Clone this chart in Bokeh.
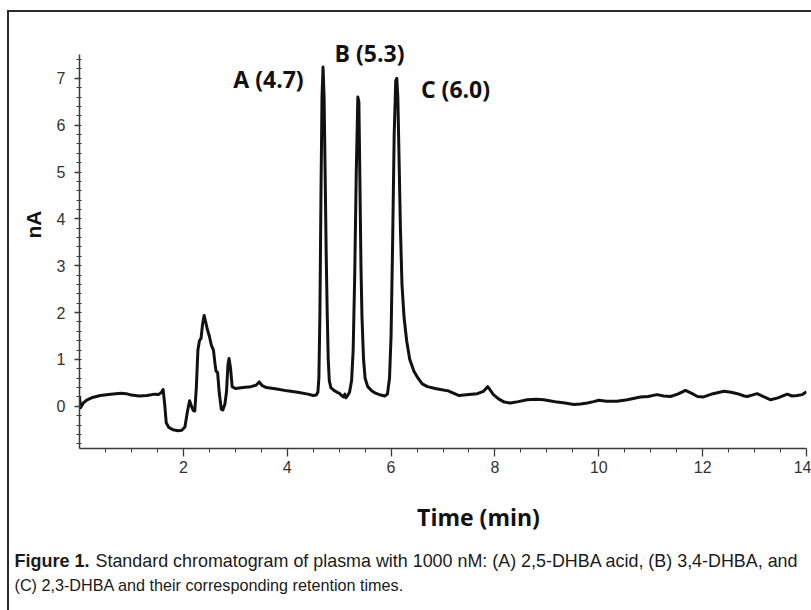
import math
from bokeh.plotting import figure
from bokeh.layouts import column
from bokeh.models import Label, FixedTicker, Range1d
from bokeh.embed import file_html
from bokeh.resources import INLINE

# ---- data ----
time_min = [
    0.00, 0.02, 0.08, 0.15, 0.25, 0.40, 0.60, 0.80, 0.90, 1.00, 1.15, 1.30, 1.45, 1.52, 1.58, 1.61,
    1.64, 1.67, 1.72, 1.80, 1.90, 1.97, 2.03, 2.08, 2.12, 2.15, 2.19, 2.22, 2.25, 2.28, 2.31, 2.34,
    2.37, 2.40, 2.43, 2.46, 2.50, 2.54, 2.58, 2.61, 2.63, 2.66, 2.69, 2.73, 2.76, 2.80, 2.83, 2.86,
    2.88, 2.91, 2.94, 3.00, 3.15, 3.30, 3.40, 3.46, 3.52, 3.60, 3.80, 4.00, 4.20, 4.40, 4.50, 4.56,
    4.59, 4.61, 4.63, 4.65, 4.67, 4.69, 4.71, 4.73, 4.75, 4.77, 4.79, 4.81, 4.84, 4.90, 4.96, 5.00,
    5.04, 5.08, 5.11, 5.13, 5.17, 5.20, 5.24, 5.27, 5.30, 5.33, 5.36, 5.38, 5.40, 5.42, 5.44, 5.47,
    5.50, 5.55, 5.62, 5.70, 5.80, 5.88, 5.93, 5.97, 6.00, 6.03, 6.06, 6.09, 6.11, 6.13, 6.15, 6.18,
    6.21, 6.25, 6.30, 6.36, 6.44, 6.52, 6.60, 6.70, 6.85, 6.95, 7.10, 7.31, 7.50, 7.66, 7.78, 7.86,
    7.90, 7.97, 8.07, 8.18, 8.30, 8.45, 8.62, 8.80, 8.94, 9.05, 9.20, 9.35, 9.52, 9.65, 9.78, 9.90,
    10.00, 10.15, 10.35, 10.55, 10.80, 10.95, 11.12, 11.25, 11.38, 11.52, 11.67, 11.80, 11.90, 12.02,
    12.20, 12.41, 12.55, 12.67, 12.80, 12.86, 12.95, 13.05, 13.15, 13.31, 13.45, 13.63, 13.72, 13.82,
    13.92, 14.00,
]
signal_nA = [
    0.20, -0.03, 0.08, 0.14, 0.19, 0.23, 0.26, 0.28, 0.27, 0.24, 0.22, 0.23, 0.26, 0.25, 0.30, 0.36,
    0.05, -0.35, -0.45, -0.50, -0.52, -0.51, -0.44, -0.10, 0.12, 0.02, -0.09, -0.10, 0.40, 1.20, 1.40, 1.45,
    1.75, 1.94, 1.80, 1.65, 1.50, 1.30, 1.20, 0.90, 0.75, 0.72, 0.30, -0.06, -0.08, 0.05, 0.30, 0.90,
    1.02, 0.80, 0.42, 0.38, 0.40, 0.42, 0.45, 0.52, 0.44, 0.40, 0.37, 0.33, 0.30, 0.26, 0.23, 0.24,
    0.30, 0.60, 2.00, 4.50, 6.60, 7.24, 6.60, 5.00, 3.30, 2.00, 1.00, 0.55, 0.40, 0.34, 0.30, 0.28,
    0.24, 0.20, 0.26, 0.18, 0.24, 0.30, 0.55, 1.20, 2.80, 5.00, 6.60, 6.50, 4.80, 3.00, 1.90, 1.00,
    0.60, 0.42, 0.34, 0.28, 0.24, 0.22, 0.26, 0.60, 1.50, 3.50, 5.80, 6.95, 7.00, 6.60, 5.50, 3.80,
    2.60, 1.90, 1.40, 1.00, 0.75, 0.60, 0.48, 0.42, 0.38, 0.36, 0.33, 0.23, 0.25, 0.27, 0.32, 0.42,
    0.36, 0.25, 0.16, 0.09, 0.07, 0.10, 0.14, 0.15, 0.14, 0.12, 0.09, 0.07, 0.04, 0.05, 0.07, 0.10,
    0.13, 0.11, 0.11, 0.14, 0.20, 0.21, 0.25, 0.22, 0.21, 0.26, 0.34, 0.27, 0.21, 0.20,
    0.27, 0.32, 0.30, 0.27, 0.22, 0.21, 0.24, 0.27, 0.22, 0.14, 0.18, 0.26, 0.22, 0.23,
    0.25, 0.31,
]

x_major_ticks = [2, 4, 6, 8, 10, 12, 14]
x_minor_ticks = [0.5, 1, 1.5, 2.5, 3, 3.5, 4.5, 5, 5.5, 6.5, 7, 7.5, 8.5, 9, 9.5,
                 10.5, 11, 11.5, 12.5, 13, 13.5]
y_major_ticks = [0, 1, 2, 3, 4, 5, 6, 7]
y_minor_ticks = [round(-0.8 + 0.2 * i, 1) for i in range(42)]
x_axis_bounds = (0, 14)
y_axis_bounds = (-0.9, 7.5)

peak_names = ["A (4.7)", "B (5.3)", "C (6.0)"]

x_title = "Time (min)"
y_title = "nA"
caption_bold = "Figure 1."
caption_line1 = "Standard chromatogram of plasma with 1000 nM: (A) 2,5-DHBA acid, (B) 3,4-DHBA, and"
caption_line2 = "(C) 2,3-DHBA and their corresponding retention times."

frame_line = "#2b2b2b"

# ---- chart figure ----
p = figure(width=811, height=490, output_backend="svg", toolbar_location=None,
           x_range=Range1d(0, 14), y_range=Range1d(-0.9, 8.66),
           min_border_left=79, min_border_right=5, min_border_top=0, min_border_bottom=42)
p.frame_align = False
p.styles = {"background": (f"linear-gradient({frame_line},{frame_line}) 7px 10px / 2px 100% no-repeat, "
                           f"linear-gradient({frame_line},{frame_line}) 7px 10px / 100% 2px no-repeat")}
p.border_fill_color = None
p.background_fill_color = None
p.outline_line_color = None
p.grid.visible = False

p.line(time_min, signal_nA, line_color="#111111", line_width=3, line_join="round")

axis_color = "#3a3a3a"
for ax in (p.xaxis[0], p.yaxis[0]):
    ax.axis_line_color = axis_color
    ax.axis_line_width = 1.5
    ax.major_tick_line_color = axis_color
    ax.minor_tick_line_color = axis_color
    ax.major_tick_line_width = 1.3
    ax.minor_tick_line_width = 1.0
    ax.major_label_text_font = "Liberation Sans"
    ax.major_label_text_font_size = "16px"
    ax.major_label_text_color = "#333333"

p.xaxis.ticker = FixedTicker(ticks=x_major_ticks, minor_ticks=x_minor_ticks)
p.xaxis.bounds = x_axis_bounds
p.xaxis.major_tick_out = 8
p.xaxis.major_tick_in = 0
p.xaxis.minor_tick_out = 4
p.xaxis.minor_tick_in = 0
p.xaxis.major_label_standoff = 4

p.yaxis.ticker = FixedTicker(ticks=y_major_ticks, minor_ticks=y_minor_ticks)
p.yaxis.bounds = y_axis_bounds
p.yaxis.major_tick_out = 5
p.yaxis.major_tick_in = 0
p.yaxis.minor_tick_out = 3
p.yaxis.minor_tick_in = 2
p.yaxis.major_label_standoff = 9
p.yaxis.axis_label = y_title
p.yaxis.axis_label_text_font = "Liberation Sans"
p.yaxis.axis_label_text_font_style = "bold"
p.yaxis.axis_label_text_font_size = "21px"
p.yaxis.axis_label_text_color = "#111111"
p.yaxis.axis_label_standoff = 9

# peak labels, placed from pixel positions of the reference
px_x = 727 / 14.0
px_y = 448 / 9.56

def dx(page_x):
    return (page_x - 79) / px_x

def dy(page_y):
    return (448 - page_y) / px_y - 0.9

peak_pos = [(268, 78), (369, 52), (455, 88)]
for name, (lx, ly) in zip(peak_names, peak_pos):
    p.add_layout(Label(x=dx(lx), y=dy(ly), text=name, text_align="center", text_baseline="middle",
                       text_font="Open Sans", text_font_style="bold", text_font_size="23px",
                       text_color="#111111"))

# ---- caption figure (pixel coordinates, y downward) ----
c = figure(width=811, height=120, output_backend="svg", toolbar_location=None,
           x_range=Range1d(0, 811), y_range=Range1d(120, 0),
           x_axis_location=None, y_axis_location=None,
           min_border_left=0, min_border_right=0, min_border_top=0, min_border_bottom=0)
c.frame_align = False
c.styles = {"background": f"linear-gradient({frame_line},{frame_line}) 7px 0 / 2px 100% no-repeat"}
c.border_fill_color = None
c.background_fill_color = None
c.outline_line_color = None
c.grid.visible = False

c.add_layout(Label(x=478, y=26, text=x_title, text_align="center", text_baseline="middle",
                   text_font="Open Sans", text_font_style="bold", text_font_size="23px",
                   text_color="#111111"))
c.add_layout(Label(x=14, y=70, text=caption_bold, text_align="left", text_baseline="middle",
                   text_font="Liberation Sans", text_font_style="bold", text_font_size="18px",
                   text_color="#1a1a1a"))
c.add_layout(Label(x=95, y=70, text=caption_line1, text_align="left", text_baseline="middle",
                   text_font="Liberation Sans", text_font_size="17.9px", text_color="#1a1a1a"))
c.add_layout(Label(x=14, y=94, text=caption_line2, text_align="left", text_baseline="middle",
                   text_font="Liberation Sans", text_font_size="16.2px", text_color="#1a1a1a"))

layout = column(p, c)
open("out.html", "w").write(file_html(layout, INLINE))
